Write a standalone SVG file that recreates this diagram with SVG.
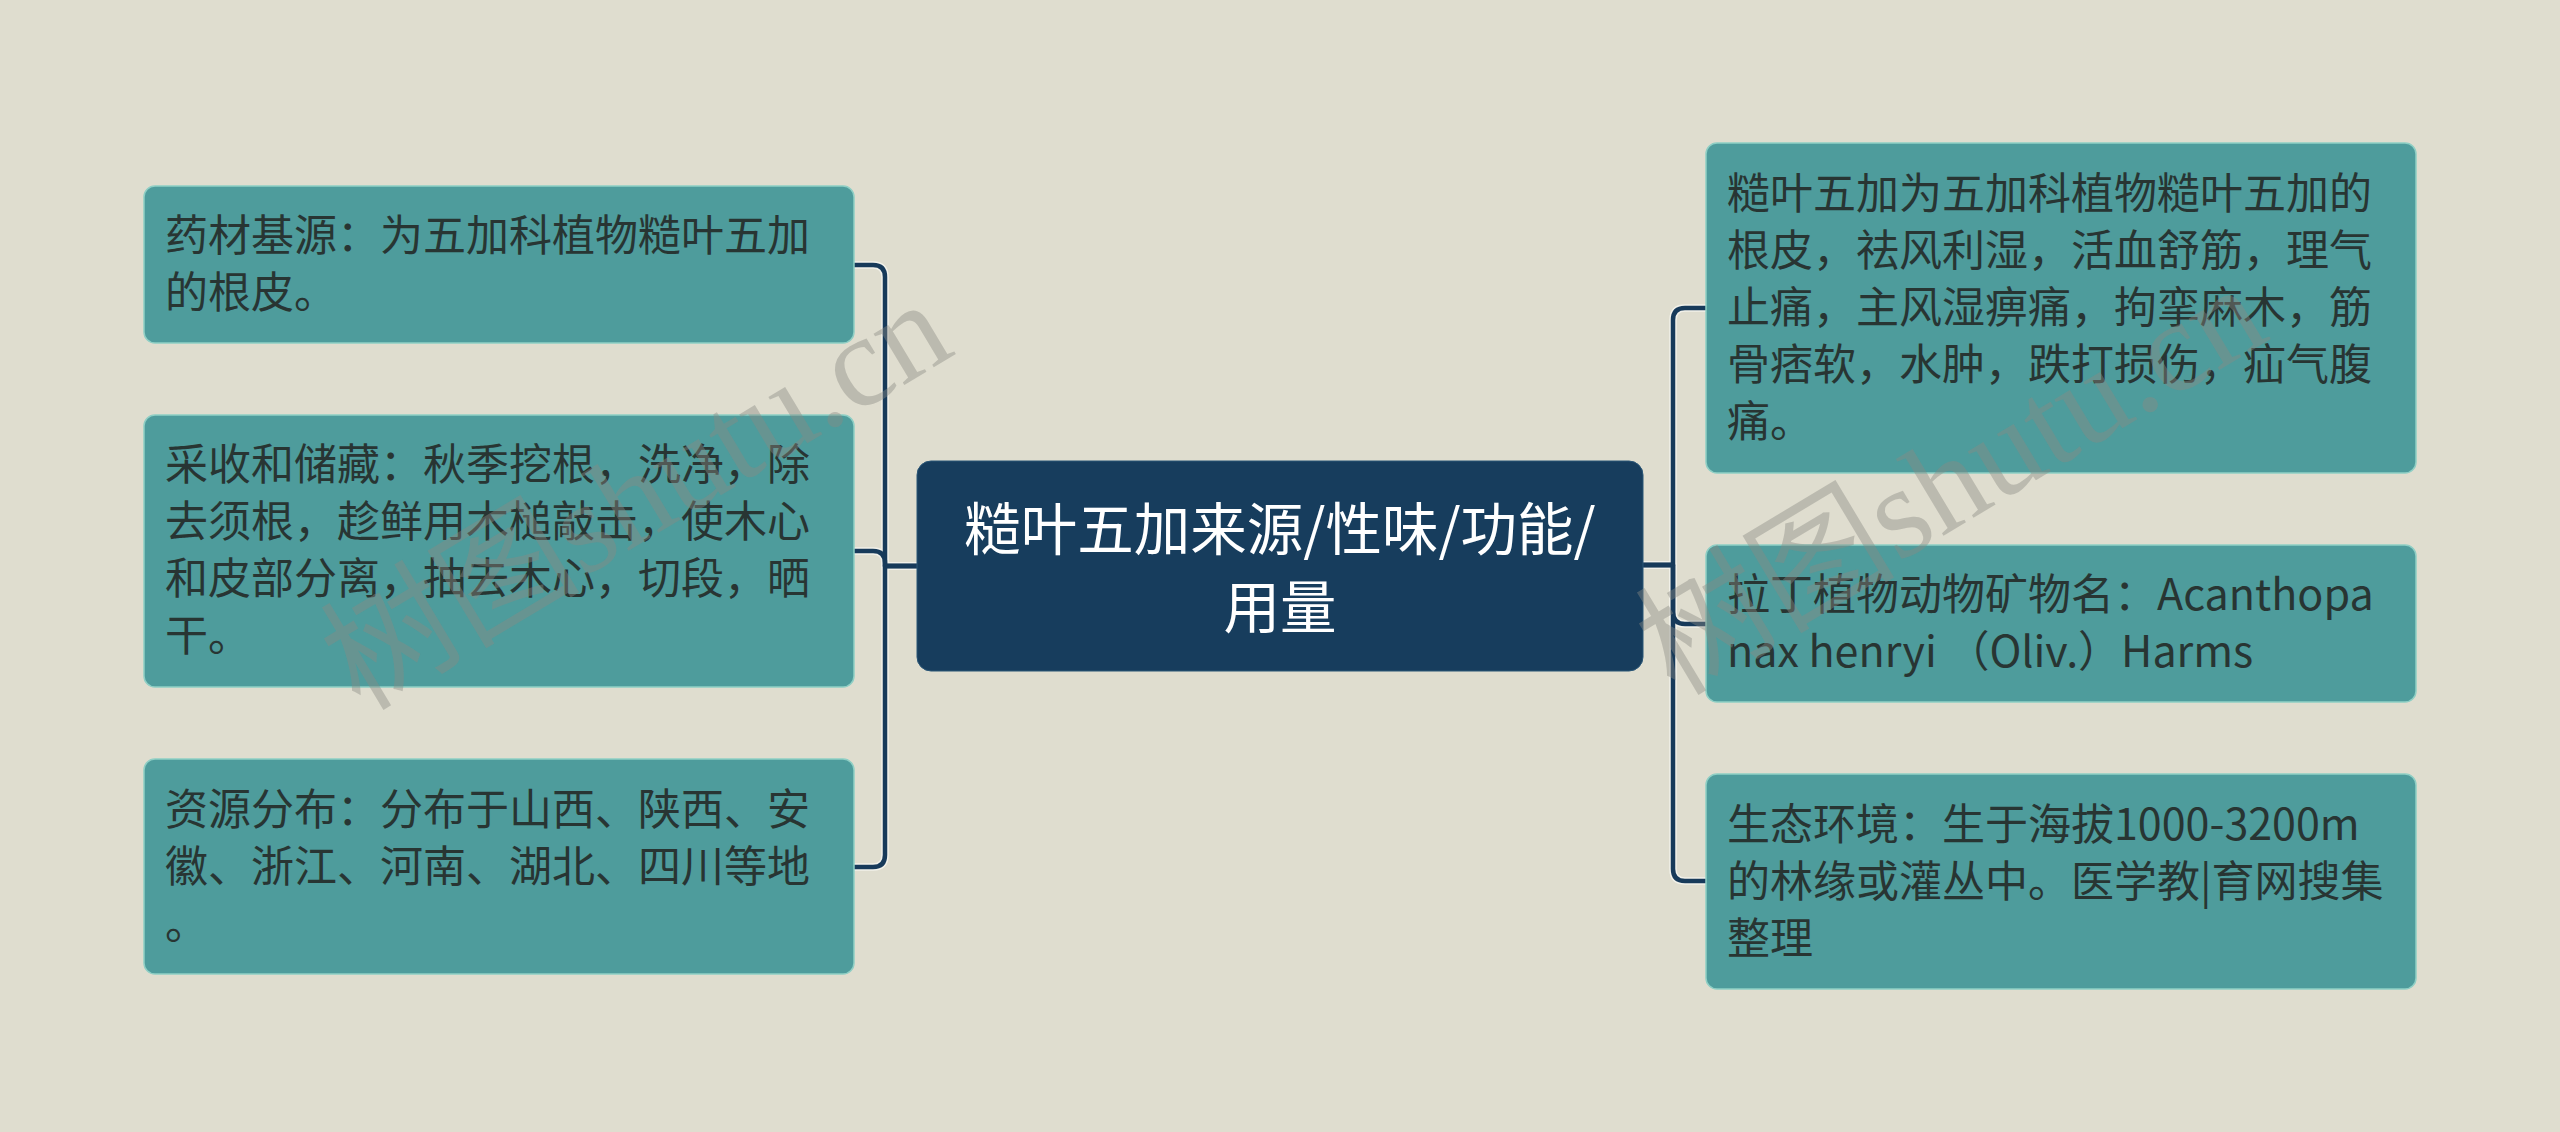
<svg xmlns="http://www.w3.org/2000/svg" width="2560" height="1132" viewBox="0 0 2560 1132">
<style>
.bg{fill:#dfddcf}
.leaf{fill:#4e9c9c;stroke:#8fcfc5;stroke-width:1.5}
.root{fill:#173d5d;stroke:#2a5677;stroke-width:1}
.t{font-family:"Noto Sans CJK SC","Noto Sans",sans-serif;font-size:43px;fill:#283533}
.rt{font-family:"Noto Sans CJK SC","Noto Sans",sans-serif;font-size:56.5px;fill:#ffffff;text-anchor:middle}
.halo{fill:none;stroke:#f2f1ea;stroke-width:7.5;stroke-linejoin:round}
.line{fill:none;stroke:#173a5a;stroke-width:4.5;stroke-linejoin:round}
.wm{font-family:"Liberation Serif","Noto Sans CJK SC",serif;font-size:130px;fill:#8a8a84;fill-opacity:0.42}
</style>
<rect class="bg" x="0" y="0" width="2560" height="1132"/>
<g id="connectors">
<g class="halo">
<path d="M918 566 H885 V277 Q885 265 873 265 H854"/>
<path d="M918 566 H885 V563 Q885 551 873 551 H854"/>
<path d="M918 566 H885 V855 Q885 867 873 867 H854"/>
<path d="M1643 565 H1673 V320 Q1673 308 1685 308 H1706"/>
<path d="M1643 565 H1673 V612 Q1673 624 1685 624 H1706"/>
<path d="M1643 565 H1673 V869 Q1673 881 1685 881 H1706"/>
</g>
<g class="line">
<path d="M918 566 H885 V277 Q885 265 873 265 H854"/>
<path d="M918 566 H885 V563 Q885 551 873 551 H854"/>
<path d="M918 566 H885 V855 Q885 867 873 867 H854"/>
<path d="M1643 565 H1673 V320 Q1673 308 1685 308 H1706"/>
<path d="M1643 565 H1673 V612 Q1673 624 1685 624 H1706"/>
<path d="M1643 565 H1673 V869 Q1673 881 1685 881 H1706"/>
</g>
</g>
<g id="root">
<rect class="root" x="917" y="461" width="726" height="210" rx="14"/>
<text class="rt" x="1280" y="550">糙叶五加来源/性味/功能/</text>
<text class="rt" x="1280" y="628">用量</text>
</g>
<g id="n-left-1">
<rect class="leaf" x="144" y="186" width="710" height="157" rx="11"/>
<text class="t" x="165" y="251">药材基源：为五加科植物糙叶五加</text>
<text class="t" x="165" y="308">的根皮。</text>
</g>
<g id="n-left-2">
<rect class="leaf" x="144" y="415" width="710" height="272" rx="11"/>
<text class="t" x="165" y="480">采收和储藏：秋季挖根，洗净，除</text>
<text class="t" x="165" y="537">去须根，趁鲜用木槌敲击，使木心</text>
<text class="t" x="165" y="594">和皮部分离，抽去木心，切段，晒</text>
<text class="t" x="165" y="651">干。</text>
</g>
<g id="n-left-3">
<rect class="leaf" x="144" y="759" width="710" height="215" rx="11"/>
<text class="t" x="165" y="825">资源分布：分布于山西、陕西、安</text>
<text class="t" x="165" y="882">徽、浙江、河南、湖北、四川等地</text>
<text class="t" x="165" y="939">。</text>
</g>
<g id="n-right-1">
<rect class="leaf" x="1706" y="143" width="710" height="330" rx="11"/>
<text class="t" x="1727" y="209">糙叶五加为五加科植物糙叶五加的</text>
<text class="t" x="1727" y="266">根皮，祛风利湿，活血舒筋，理气</text>
<text class="t" x="1727" y="323">止痛，主风湿痹痛，拘挛麻木，筋</text>
<text class="t" x="1727" y="380">骨痞软，水肿，跌打损伤，疝气腹</text>
<text class="t" x="1727" y="437">痛。</text>
</g>
<g id="n-right-2">
<rect class="leaf" x="1706" y="545" width="710" height="157" rx="11"/>
<text class="t" x="1727" y="610">拉丁植物动物矿物名：Acanthopa</text>
<text class="t" x="1727" y="667">nax henryi （Oliv.）Harms</text>
</g>
<g id="n-right-3">
<rect class="leaf" x="1706" y="774" width="710" height="215" rx="11"/>
<text class="t" x="1727" y="840">生态环境：生于海拔1000-3200m</text>
<text class="t" x="1727" y="897">的林缘或灌丛中。医学教|育网搜集</text>
<text class="t" x="1727" y="954">整理</text>
</g>
<g id="watermark">
<text class="wm" transform="translate(360 712) rotate(-31)">树图shutu.cn</text>
<text class="wm" transform="translate(1675 697) rotate(-31)">树图shutu.cn</text>
</g>
</svg>
